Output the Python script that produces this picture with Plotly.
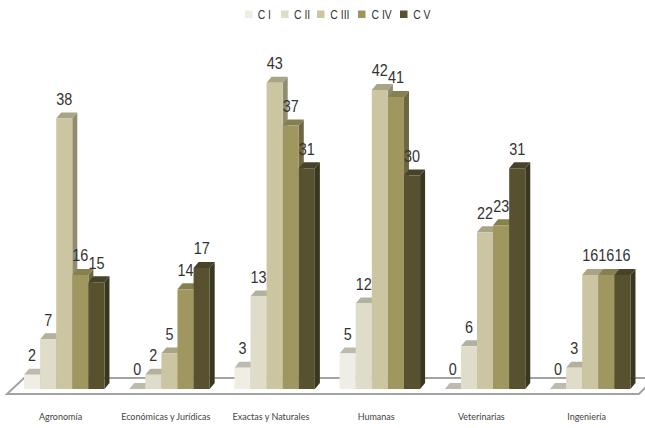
import plotly.graph_objects as go

categories = ["Agronomía", "Económicas y Jurídicas", "Exactas y Naturales", "Humanas", "Veterinarias", "Ingeniería"]
series_names = ["C I", "C II", "C III", "C IV", "C V"]
c1 = [2, 0, 3, 5, 0, 0]
c2 = [7, 2, 13, 12, 6, 3]
c3 = [38, 5, 43, 42, 22, 16]
c4 = [16, 14, 37, 41, 23, 16]
c5 = [15, 17, 31, 30, 31, 16]
series_values = [c1, c2, c3, c4, c5]

front_colors = ["#EFEDE4", "#DFDDC9", "#CBC6A1", "#9F9660", "#57512F"]
top_colors = ["#BDBBAE", "#B3B19E", "#A8A586", "#85804F", "#47432A"]
side_colors = ["#B0AE9F", "#A5A38F", "#8F8C70", "#6C6740", "#3A3720"]

BAR_W = 0.153
DX = 0.0475
DY = 0.84
LABEL_LIFT = 1.35
NUM_FONT = "Liberation Sans, sans-serif"
AXIS_FONT = "Lato, sans-serif"

shapes = []
# floor
x_l, x_f, x_br, x_fr = -0.3826, -0.544, 5.615, 5.463
y_front, y_back = -0.7, 1.54
shapes.append(dict(
    type="path", xref="x", yref="y", layer="below",
    path=f"M {x_f} {y_front} L {x_fr} {y_front} L {x_br} {y_back} L {x_l} {y_back} Z",
    line=dict(color="#A3A3A3", width=2), fillcolor="#FFFFFF",
))
# depth faces, left to right
for i in range(len(categories)):
    for s, vals in enumerate(series_values):
        v = vals[i]
        left = i + (s - 2.5) * BAR_W
        right = left + BAR_W
        shapes.append(dict(
            type="path", xref="x", yref="y", layer="below",
            path=f"M {right} 0 L {right + DX} {DY} L {right + DX} {v + DY} L {right} {v} Z",
            line=dict(width=0), fillcolor=side_colors[s],
        ))
        shapes.append(dict(
            type="path", xref="x", yref="y", layer="below",
            path=f"M {left} {v} L {left + DX} {v + DY} L {right + DX} {v + DY} L {right} {v} Z",
            line=dict(width=0), fillcolor=top_colors[s],
        ))

fig = go.Figure()
xs = list(range(len(categories)))
for s, vals in enumerate(series_values):
    fig.add_bar(x=xs, y=vals, name=series_names[s], marker=dict(color=front_colors[s], line=dict(width=0)),
                showlegend=False, hoverinfo="x+y")
for s, vals in enumerate(series_values):
    fig.add_scatter(
        x=[i + (s - 2) * BAR_W for i in xs], y=[v + LABEL_LIFT for v in vals],
        mode="text", text=[str(v) for v in vals], textposition="top center",
        textfont=dict(family=NUM_FONT, size=16, color="#333333"),
        showlegend=False, hoverinfo="skip",
    )

# legend row
legend_swatch_px = [245, 281, 317, 358, 400]
annotations = []
for s, name in enumerate(series_names):
    px = legend_swatch_px[s]
    shapes.append(dict(type="rect", xref="paper", yref="paper", layer="above",
                       x0=px / 645, x1=(px + 7.5) / 645, y0=(399 - 18) / 399, y1=(399 - 10.5) / 399,
                       line=dict(width=0), fillcolor=front_colors[s]))
    annotations.append(dict(xref="paper", yref="paper", x=(px + 9) / 645, y=(399 - 14) / 399,
                            text=name, showarrow=False, xanchor="left", yanchor="middle",
                            font=dict(family=NUM_FONT, size=13, color="#333333")))

fig.update_layout(
    width=645, height=428,
    margin=dict(l=0, r=0, t=0, b=29, pad=0),
    paper_bgcolor="#FFFFFF", plot_bgcolor="#FFFFFF",
    barmode="group", bargap=0.235, bargroupgap=0,
    shapes=shapes, annotations=annotations,
    showlegend=False,
    xaxis=dict(range=[-0.6107, 5.5205], tickmode="array",
               tickvals=[i - 0.035 for i in xs], ticktext=categories,
               ticks="outside", ticklen=9, tickcolor="rgba(0,0,0,0)",
               tickfont=dict(family=AXIS_FONT, size=9, color="#444444"),
               showgrid=False, zeroline=False, showline=False),
    yaxis=dict(range=[-1.404, 54.63], visible=False, showgrid=False, zeroline=False),
)

squeeze = """
document.body.style.margin='0';
var root=document.querySelector('.plotly-graph-div');
function narrow(sel,k){root.querySelectorAll(sel).forEach(function(t){
  var w=t.getComputedTextLength();
  t.setAttribute('textLength', (w*k).toFixed(1));
  t.setAttribute('lengthAdjust','spacingAndGlyphs');
});}
narrow('.textpoint text',0.9);
narrow('.annotation-text',0.8);
"""
fig.write_html("out.html", config=dict(displayModeBar=False), post_script=squeeze)
